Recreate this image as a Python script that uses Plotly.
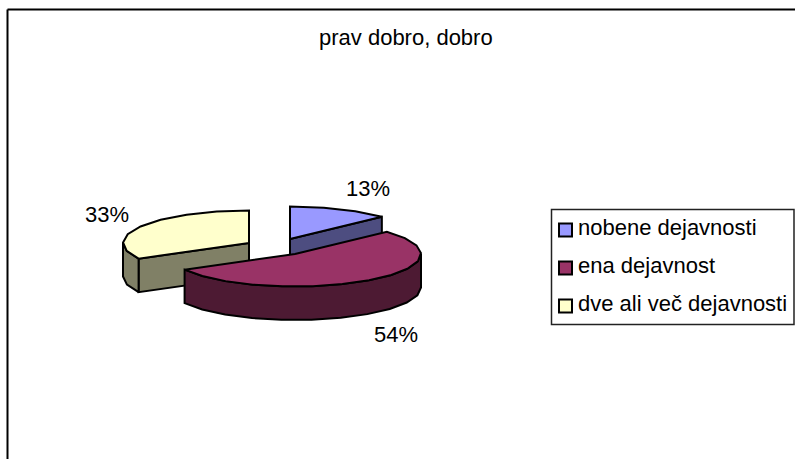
import math
import plotly.graph_objects as go

title = "prav dobro, dobro"
categories = ["nobene dejavnosti", "ena dejavnost", "dve ali več dejavnosti"]
values = [13, 54, 33]
top_colors = ["#9999FF", "#993366", "#FFFFCC"]
wall_colors = ["#4D4D80", "#4D1A33", "#808066"]

# pie geometry in page pixels
apex = [(290, 239), (295, 254), (249, 243)]
RX, RY, DEPTH = 126, 32.5, 33.5
STEP = 14.0
label_pos = [(367.5, 188), (395.5, 334), (107, 214)]
FONT = "Liberation Sans"
FONT_SIZE = 22
LINE = dict(color="black", width=2)


def pt(c, deg, drop=0.0):
    t = math.radians(deg)
    return c[0] + RX * math.sin(t), c[1] - RY * math.cos(t) + drop


def arc(c, a0, a1, drop=0.0):
    n = max(1, round(abs(a1 - a0) / STEP))
    return [pt(c, a0 + (a1 - a0) * i / n, drop) for i in range(n + 1)]


total = sum(values)
angles = [0.0]
for v in values:
    angles.append(angles[-1] + 360.0 * v / total)

fig = go.Figure()


def poly(points, fill, name):
    fig.add_trace(go.Scatter(
        x=[p[0] for p in points] + [points[0][0]],
        y=[p[1] for p in points] + [points[0][1]],
        mode="lines", fill="toself", fillcolor=fill, line=LINE,
        name=name, hoverinfo="name", showlegend=False))


for i in [0, 2, 1]:
    c, a0, a1 = apex[i], angles[i], angles[i + 1]
    name = categories[i]
    # radial cut face that faces the viewer
    if i == 0:
        poly([c, pt(c, a1), pt(c, a1, DEPTH), (c[0], c[1] + DEPTH)], wall_colors[i], name)
    if i == 2:
        poly([c, pt(c, a0), pt(c, a0, DEPTH), (c[0], c[1] + DEPTH)], wall_colors[i], name)
    # outer wall: the part of the rim on the near side
    w0, w1 = max(a0, 90.0), min(a1, 270.0)
    if w1 > w0:
        poly(arc(c, w0, w1) + arc(c, w1, w0, DEPTH), wall_colors[i], name)
    # top face
    poly([c] + arc(c, a0, a1), top_colors[i], name)

# legend swatches and labels
legend_y = [230, 268, 306]
fig.add_trace(go.Scatter(
    x=[565.5] * 3, y=legend_y, mode="markers",
    marker=dict(symbol="square", size=13, color=top_colors, line=dict(color="black", width=2)),
    hoverinfo="skip", showlegend=False))

font = dict(family=FONT, size=FONT_SIZE, color="black")
annotations = [dict(x=405.5, y=37, text=title, showarrow=False, xanchor="center", yanchor="middle", font=font)]
for (lx, ly), v in zip(label_pos, values):
    annotations.append(dict(x=lx, y=ly, text=f"{v}%", showarrow=False, xanchor="center", yanchor="middle", font=font))
for name, ly in zip(categories, legend_y):
    annotations.append(dict(x=578, y=ly - 3, text=name, showarrow=False, xanchor="left", yanchor="middle", xshift=-2, font=font))

shapes = [
    dict(type="line", x0=7.5, x1=795, y0=9.5, y1=9.5, line=dict(color="black", width=2)),
    dict(type="line", x0=7.5, x1=7.5, y0=9.5, y1=459, line=dict(color="black", width=2)),
    dict(type="rect", x0=551.5, x1=794, y0=209.5, y1=324.5, line=dict(color="#222222", width=1.5), fillcolor="white", layer="below"),
]

fig.update_layout(
    width=795, height=459, margin=dict(l=0, r=0, t=0, b=0),
    paper_bgcolor="white", plot_bgcolor="white", showlegend=False,
    xaxis=dict(range=[0, 795], visible=False, fixedrange=True),
    yaxis=dict(range=[459, 0], visible=False, fixedrange=True),
    shapes=shapes, annotations=annotations,
)
fig.write_html("out.html", config=dict(displayModeBar=False),
               post_script="document.body.style.margin='0';document.body.style.overflow='hidden';")
